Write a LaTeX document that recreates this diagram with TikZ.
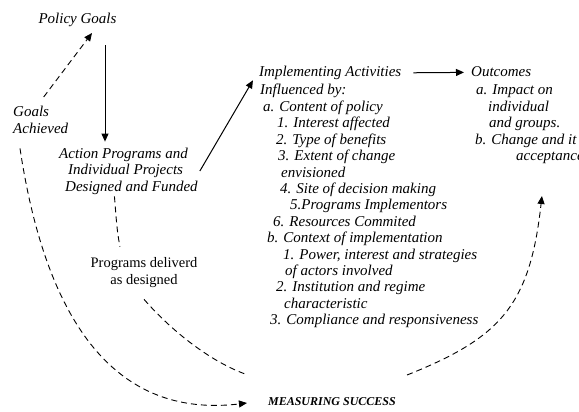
\documentclass[tikz,border=0pt]{standalone}
\usepackage{fontspec}
\setmainfont{Liberation Serif}
\usepackage{tikz}
\usetikzlibrary{arrows.meta}

\tikzset{
  txt/.style={font=\fontsize{15}{16.4}\selectfont\itshape, inner sep=2pt},
  item/.style={txt, anchor=base west},
  flow/.style={-{Triangle[length=8pt,width=7pt]}, line width=1pt},
  dashline/.style={dash pattern=on 6pt off 4pt, line width=0.9pt},
  dashflow/.style={dashline, -{Triangle[length=8pt,width=7pt]}},
}

\begin{document}
\begin{tikzpicture}[x=1pt, y=-1pt]
\useasboundingbox (0,0) rectangle (579,412);

% --- GOALS AND PROGRAMS (LEFT) ---
\node[txt] (policy) at (77.5,20) {Policy Goals};
\node[txt, align=left, anchor=north west] (goals) at (11,104) {Goals\\Achieved};
\node[txt, align=left, anchor=west] (action) at (57,171) {Action Programs and\\\hspace*{9pt}Individual Projects\\\hspace*{6pt}Designed and Funded};
\node[font=\fontsize{14.5}{17}\selectfont, align=center, inner sep=2pt] (deliv) at (144,273) {Programs deliverd\\as designed};

% --- IMPLEMENTATION (MIDDLE) ---
\node[item] (impl) at (257,77) {Implementing Activities};
\foreach \dx/\lbl [count=\i] in {258/Influenced by:, 261/a. Content of policy,
    275/1. Interest affected, 274/2. Type of benefits, 276/3. Extent of change,
    279/envisioned, 278/4. Site of decision making, 288/5.Programs Implementors,
    271/6. Resources Commited, 265/b. Context of implementation,
    281/{1. Power, interest and strategies}, 283/of actors involved,
    274/2. Institution and regime, 282/characteristic,
    268/3. Compliance and responsiveness}
  \node[item] (inf\i) at (\dx,{95+16.4*(\i-1)}) {\lbl};

% --- OUTCOMES (RIGHT) ---
\node[item] (outc) at (469,77) {Outcomes};
\foreach \dx/\lbl [count=\i] in {474/a. Impact on, 486/individual, 487/and groups.,
    473/b. Change and it, 514/acceptance}
  \node[item] (out\i) at (\dx,{95+16.4*(\i-1)}) {\lbl};

\node[font=\fontsize{12}{14}\selectfont\bfseries\itshape, inner sep=2pt] (measure) at (332,402) {MEASURING SUCCESS};

% --- MAIN FLOW ---
\draw[flow, shorten <=16pt, shorten >=4pt] ([xshift=27.5pt]policy.south) -- ([xshift=27.5pt]policy.south |- action.north);
\draw[flow, shorten >=8pt] (action.east) -- (impl.west);
\draw[flow, shorten <=10pt, shorten >=5pt] (impl) -- (outc);

% --- FEEDBACK LOOPS ---
\draw[dashflow] ([xshift=3pt,yshift=7pt]goals.north) -- ([xshift=14.5pt,yshift=-4pt]policy.south);
\draw[dashflow] ([xshift=9pt,yshift=-13pt]goals.south west)
  .. controls (41,288.5) and (96.5,421) .. ([xshift=-19pt,yshift=-1pt]measure.west);
\draw[dashline] ([xshift=-14pt]action.south) .. controls +(2,25) and +(-3,-15) .. ([xshift=-24pt,yshift=9pt]deliv.north);
\draw[dashline] ([yshift=-9pt]deliv.south) .. controls +(26,30) and +(-38,-13) .. ([xshift=-18pt,yshift=27pt]measure.west);
\draw[dashflow] ([xshift=9pt,yshift=27pt]measure.east)
  .. controls (501,337.6) and (530,305) .. ([xshift=-8pt,yshift=-30pt]out5.south);
\end{tikzpicture}
\end{document}
